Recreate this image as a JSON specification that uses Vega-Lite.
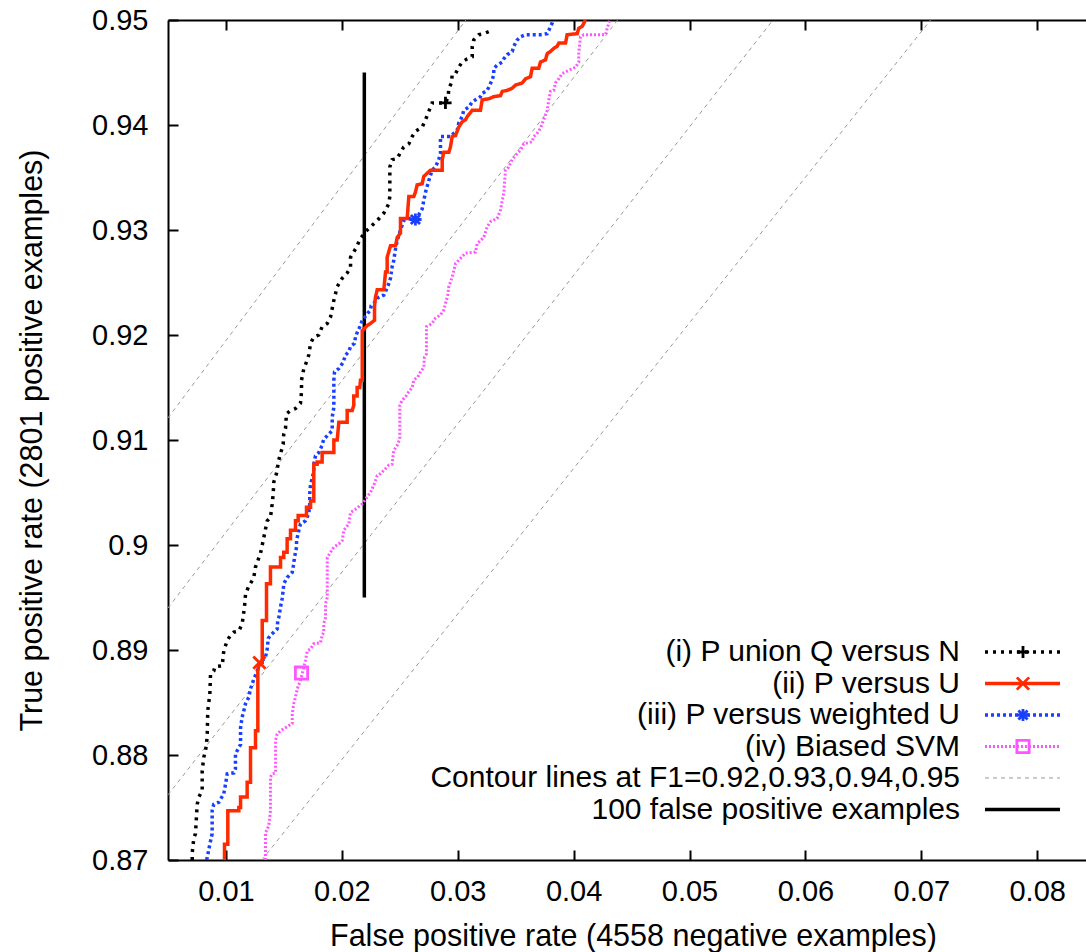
{
"$schema":"https://vega.github.io/schema/vega-lite/v6.json",
"width":918,"height":840,
"autosize":{"type":"none"},
"padding":{"left":168,"top":20,"right":0,"bottom":92},
"background":"white",
"config":{"font":"Liberation Sans","view":{"stroke":null},
"axis":{"domainColor":"#000","domainWidth":2,"tickColor":"#000","tickWidth":2,"tickSize":-10,"labelColor":"#000","labelFont":"Liberation Sans","labelFontSize":29,"titleFont":"Liberation Sans","titleFontSize":30.5,"titleFontWeight":"normal","titleColor":"#000","grid":false}},
"datasets":{
"curves":[
{"s":"e","g":"c95","x":0.005,"y":0.9121},{"s":"e","g":"c95","x":0.0307,"y":0.95},
{"s":"e","g":"c94","x":0.005,"y":0.894},{"s":"e","g":"c94","x":0.0438,"y":0.95},
{"s":"e","g":"c93","x":0.005,"y":0.8762},{"s":"e","g":"c93","x":0.0572,"y":0.95},
{"s":"e","g":"c92","x":0.0131,"y":0.87},{"s":"e","g":"c92","x":0.0708,"y":0.95},
{"s":"f","x":0.02194,"y":0.895},{"s":"f","x":0.02194,"y":0.945},
{"s":"d","x":0.01341,"y":0.87},{"s":"d","x":0.01341,"y":0.8726},{"s":"d","x":0.01356,"y":0.8729},{"s":"d","x":0.0137,"y":0.8733},{"s":"d","x":0.01384,"y":0.8747},{"s":"d","x":0.01384,"y":0.8779},{"s":"d","x":0.01399,"y":0.8782},{"s":"d","x":0.01428,"y":0.8783},{"s":"d","x":0.01428,"y":0.8814},{"s":"d","x":0.01442,"y":0.882},{"s":"d","x":0.01471,"y":0.8823},{"s":"d","x":0.01514,"y":0.8826},{"s":"d","x":0.01542,"y":0.8828},{"s":"d","x":0.01572,"y":0.883},{"s":"d","x":0.01572,"y":0.8839},{"s":"d","x":0.01585,"y":0.8849},{"s":"d","x":0.016,"y":0.8855},{"s":"d","x":0.01615,"y":0.8863},{"s":"d","x":0.01643,"y":0.8871},{"s":"d","x":0.01658,"y":0.8877},{"s":"d","x":0.01672,"y":0.8884},{"s":"d","x":0.01686,"y":0.889},{"s":"d","x":0.01701,"y":0.8899},{"s":"d","x":0.0173,"y":0.8901},{"s":"d","x":0.01758,"y":0.8906},{"s":"d","x":0.01816,"y":0.8907},{"s":"d","x":0.0183,"y":0.8914},{"s":"d","x":0.01844,"y":0.8917},{"s":"d","x":0.01844,"y":0.8925},{"s":"d","x":0.01859,"y":0.8931},{"s":"d","x":0.01859,"y":0.8944},{"s":"d","x":0.01874,"y":0.895},{"s":"d","x":0.01874,"y":0.8988},{"s":"d","x":0.01902,"y":0.8993},{"s":"d","x":0.01931,"y":0.8998},{"s":"d","x":0.01974,"y":0.9001},{"s":"d","x":0.02003,"y":0.9004},{"s":"d","x":0.02017,"y":0.9014},{"s":"d","x":0.0206,"y":0.902},{"s":"d","x":0.02075,"y":0.9031},{"s":"d","x":0.02118,"y":0.9034},{"s":"d","x":0.02176,"y":0.9039},{"s":"d","x":0.02219,"y":0.9046},{"s":"d","x":0.02247,"y":0.905},{"s":"d","x":0.02276,"y":0.9057},{"s":"d","x":0.02305,"y":0.9066},{"s":"d","x":0.02334,"y":0.9068},{"s":"d","x":0.02362,"y":0.9071},{"s":"d","x":0.02405,"y":0.9076},{"s":"d","x":0.02434,"y":0.9077},{"s":"d","x":0.02448,"y":0.909},{"s":"d","x":0.02478,"y":0.9095},{"s":"d","x":0.025,"y":0.9101},{"s":"d","x":0.025,"y":0.9133},{"s":"d","x":0.02521,"y":0.9138},{"s":"d","x":0.02549,"y":0.9141},{"s":"d","x":0.02578,"y":0.9146},{"s":"d","x":0.02607,"y":0.915},{"s":"d","x":0.02621,"y":0.9157},{"s":"d","x":0.02655,"y":0.916},{"s":"d","x":0.02679,"y":0.9165},{"s":"d","x":0.02707,"y":0.9169},{"s":"d","x":0.02713,"y":0.9179},{"s":"d","x":0.0273,"y":0.9182},{"s":"d","x":0.0273,"y":0.9208},{"s":"d","x":0.0275,"y":0.9209},{"s":"d","x":0.02779,"y":0.9211},{"s":"d","x":0.02808,"y":0.9216},{"s":"d","x":0.02851,"y":0.9219},{"s":"d","x":0.0288,"y":0.9224},{"s":"d","x":0.02894,"y":0.923},{"s":"d","x":0.02914,"y":0.9238},{"s":"d","x":0.02923,"y":0.9246},{"s":"d","x":0.02952,"y":0.9255},{"s":"d","x":0.02981,"y":0.9268},{"s":"d","x":0.03024,"y":0.9273},{"s":"d","x":0.03067,"y":0.9278},{"s":"d","x":0.03153,"y":0.9279},{"s":"d","x":0.03168,"y":0.9287},{"s":"d","x":0.03225,"y":0.9293},{"s":"d","x":0.03254,"y":0.9303},{"s":"d","x":0.03283,"y":0.9308},{"s":"d","x":0.0334,"y":0.9311},{"s":"d","x":0.03369,"y":0.9319},{"s":"d","x":0.03384,"y":0.9328},{"s":"d","x":0.03397,"y":0.9335},{"s":"d","x":0.03412,"y":0.9357},{"s":"d","x":0.0344,"y":0.936},{"s":"d","x":0.0347,"y":0.9367},{"s":"d","x":0.03498,"y":0.9371},{"s":"d","x":0.03541,"y":0.9376},{"s":"d","x":0.0357,"y":0.9382},{"s":"d","x":0.03642,"y":0.9384},{"s":"d","x":0.03656,"y":0.9389},{"s":"d","x":0.03685,"y":0.9392},{"s":"d","x":0.03714,"y":0.9397},{"s":"d","x":0.03742,"y":0.9405},{"s":"d","x":0.03772,"y":0.9414},{"s":"d","x":0.03786,"y":0.9424},{"s":"d","x":0.038,"y":0.9432},{"s":"d","x":0.03829,"y":0.9433},{"s":"d","x":0.03843,"y":0.944},{"s":"d","x":0.03872,"y":0.9444},{"s":"d","x":0.03901,"y":0.9449},{"s":"d","x":0.03958,"y":0.9452},{"s":"d","x":0.04016,"y":0.9455},{"s":"d","x":0.04044,"y":0.946},{"s":"d","x":0.04044,"y":0.9468},{"s":"d","x":0.04059,"y":0.9484},{"s":"d","x":0.04088,"y":0.9486},{"s":"d","x":0.04275,"y":0.9486},{"s":"d","x":0.04289,"y":0.9492},{"s":"d","x":0.04303,"y":0.9497},{"s":"d","x":0.04309,"y":0.95},
{"s":"c","x":0.00832,"y":0.87},{"s":"c","x":0.00838,"y":0.8702},{"s":"c","x":0.00861,"y":0.8715},{"s":"c","x":0.00881,"y":0.8725},{"s":"c","x":0.00881,"y":0.8747},{"s":"c","x":0.00895,"y":0.8753},{"s":"c","x":0.00938,"y":0.8755},{"s":"c","x":0.00981,"y":0.8763},{"s":"c","x":0.00996,"y":0.8772},{"s":"c","x":0.01011,"y":0.8782},{"s":"c","x":0.01068,"y":0.8783},{"s":"c","x":0.01082,"y":0.8787},{"s":"c","x":0.01082,"y":0.8801},{"s":"c","x":0.01111,"y":0.8807},{"s":"c","x":0.01126,"y":0.881},{"s":"c","x":0.01126,"y":0.8826},{"s":"c","x":0.0114,"y":0.8836},{"s":"c","x":0.01154,"y":0.8842},{"s":"c","x":0.01169,"y":0.8849},{"s":"c","x":0.01197,"y":0.8855},{"s":"c","x":0.01212,"y":0.8863},{"s":"c","x":0.0124,"y":0.8872},{"s":"c","x":0.0127,"y":0.888},{"s":"c","x":0.01283,"y":0.8885},{"s":"c","x":0.01298,"y":0.8888},{"s":"c","x":0.01341,"y":0.8893},{"s":"c","x":0.01356,"y":0.8901},{"s":"c","x":0.01365,"y":0.8911},{"s":"c","x":0.01384,"y":0.8914},{"s":"c","x":0.01413,"y":0.8917},{"s":"c","x":0.01442,"y":0.892},{"s":"c","x":0.01447,"y":0.8928},{"s":"c","x":0.01456,"y":0.8931},{"s":"c","x":0.01471,"y":0.8941},{"s":"c","x":0.01485,"y":0.8949},{"s":"c","x":0.01494,"y":0.8957},{"s":"c","x":0.01499,"y":0.8963},{"s":"c","x":0.01528,"y":0.8969},{"s":"c","x":0.01572,"y":0.8974},{"s":"c","x":0.01585,"y":0.8982},{"s":"c","x":0.01591,"y":0.8988},{"s":"c","x":0.01609,"y":0.8998},{"s":"c","x":0.01609,"y":0.9004},{"s":"c","x":0.01629,"y":0.9014},{"s":"c","x":0.01643,"y":0.902},{"s":"c","x":0.01686,"y":0.9023},{"s":"c","x":0.01715,"y":0.903},{"s":"c","x":0.01723,"y":0.9039},{"s":"c","x":0.01723,"y":0.9049},{"s":"c","x":0.0173,"y":0.9058},{"s":"c","x":0.01744,"y":0.9063},{"s":"c","x":0.01758,"y":0.9071},{"s":"c","x":0.01758,"y":0.9077},{"s":"c","x":0.01773,"y":0.9085},{"s":"c","x":0.01801,"y":0.9088},{"s":"c","x":0.0183,"y":0.9095},{"s":"c","x":0.01844,"y":0.9101},{"s":"c","x":0.01874,"y":0.9104},{"s":"c","x":0.01917,"y":0.9109},{"s":"c","x":0.01917,"y":0.9122},{"s":"c","x":0.01931,"y":0.9131},{"s":"c","x":0.01931,"y":0.9157},{"s":"c","x":0.01937,"y":0.9165},{"s":"c","x":0.01974,"y":0.9168},{"s":"c","x":0.02012,"y":0.9174},{"s":"c","x":0.02031,"y":0.9181},{"s":"c","x":0.0206,"y":0.9184},{"s":"c","x":0.02075,"y":0.9189},{"s":"c","x":0.02109,"y":0.9192},{"s":"c","x":0.02118,"y":0.9198},{"s":"c","x":0.02138,"y":0.9204},{"s":"c","x":0.02161,"y":0.9209},{"s":"c","x":0.02176,"y":0.9214},{"s":"c","x":0.02198,"y":0.9217},{"s":"c","x":0.02219,"y":0.922},{"s":"c","x":0.02247,"y":0.9224},{"s":"c","x":0.02253,"y":0.9228},{"s":"c","x":0.02276,"y":0.923},{"s":"c","x":0.02305,"y":0.9235},{"s":"c","x":0.02362,"y":0.9238},{"s":"c","x":0.02396,"y":0.9246},{"s":"c","x":0.0242,"y":0.9254},{"s":"c","x":0.02434,"y":0.9265},{"s":"c","x":0.02448,"y":0.9271},{"s":"c","x":0.02463,"y":0.9282},{"s":"c","x":0.02478,"y":0.929},{"s":"c","x":0.02506,"y":0.93},{"s":"c","x":0.02534,"y":0.9309},{"s":"c","x":0.02578,"y":0.9311},{"s":"c","x":0.02635,"y":0.9311},{"s":"c","x":0.0265,"y":0.9312},{"s":"c","x":0.02693,"y":0.932},{"s":"c","x":0.02707,"y":0.9328},{"s":"c","x":0.02722,"y":0.9336},{"s":"c","x":0.0275,"y":0.9347},{"s":"c","x":0.02779,"y":0.9357},{"s":"c","x":0.02808,"y":0.936},{"s":"c","x":0.02836,"y":0.9367},{"s":"c","x":0.02851,"y":0.9373},{"s":"c","x":0.02851,"y":0.9389},{"s":"c","x":0.0288,"y":0.9389},{"s":"c","x":0.02937,"y":0.9389},{"s":"c","x":0.02966,"y":0.9392},{"s":"c","x":0.02995,"y":0.9395},{"s":"c","x":0.03009,"y":0.9402},{"s":"c","x":0.03038,"y":0.9408},{"s":"c","x":0.03052,"y":0.9414},{"s":"c","x":0.03095,"y":0.9417},{"s":"c","x":0.03125,"y":0.9422},{"s":"c","x":0.03196,"y":0.9427},{"s":"c","x":0.03211,"y":0.943},{"s":"c","x":0.03254,"y":0.9433},{"s":"c","x":0.03268,"y":0.9436},{"s":"c","x":0.03297,"y":0.9443},{"s":"c","x":0.03311,"y":0.9448},{"s":"c","x":0.03311,"y":0.9454},{"s":"c","x":0.0334,"y":0.9457},{"s":"c","x":0.03384,"y":0.946},{"s":"c","x":0.03397,"y":0.9463},{"s":"c","x":0.03427,"y":0.9467},{"s":"c","x":0.0347,"y":0.947},{"s":"c","x":0.03484,"y":0.9475},{"s":"c","x":0.03498,"y":0.9478},{"s":"c","x":0.03513,"y":0.9481},{"s":"c","x":0.03541,"y":0.9484},{"s":"c","x":0.03585,"y":0.9486},{"s":"c","x":0.03714,"y":0.9486},{"s":"c","x":0.03772,"y":0.9487},{"s":"c","x":0.03786,"y":0.949},{"s":"c","x":0.038,"y":0.9494},{"s":"c","x":0.03815,"y":0.9497},{"s":"c","x":0.03826,"y":0.95},
{"s":"a","x":0.00709,"y":0.87},{"s":"a","x":0.00709,"y":0.8707},{"s":"a","x":0.00723,"y":0.8721},{"s":"a","x":0.00737,"y":0.8725},{"s":"a","x":0.00752,"y":0.8753},{"s":"a","x":0.00766,"y":0.876},{"s":"a","x":0.00795,"y":0.8766},{"s":"a","x":0.00795,"y":0.8785},{"s":"a","x":0.00809,"y":0.8798},{"s":"a","x":0.00824,"y":0.8804},{"s":"a","x":0.00838,"y":0.8817},{"s":"a","x":0.00843,"y":0.8842},{"s":"a","x":0.00861,"y":0.8858},{"s":"a","x":0.00867,"y":0.8877},{"s":"a","x":0.00895,"y":0.888},{"s":"a","x":0.00904,"y":0.8884},{"s":"a","x":0.00968,"y":0.8885},{"s":"a","x":0.00981,"y":0.8899},{"s":"a","x":0.00996,"y":0.8904},{"s":"a","x":0.01011,"y":0.8909},{"s":"a","x":0.01039,"y":0.8914},{"s":"a","x":0.01068,"y":0.8917},{"s":"a","x":0.01111,"y":0.8918},{"s":"a","x":0.0114,"y":0.8925},{"s":"a","x":0.0116,"y":0.8941},{"s":"a","x":0.01169,"y":0.8953},{"s":"a","x":0.01197,"y":0.8961},{"s":"a","x":0.01226,"y":0.8966},{"s":"a","x":0.0124,"y":0.8969},{"s":"a","x":0.01255,"y":0.8979},{"s":"a","x":0.01275,"y":0.8985},{"s":"a","x":0.01298,"y":0.8992},{"s":"a","x":0.01321,"y":0.9004},{"s":"a","x":0.01341,"y":0.9015},{"s":"a","x":0.01356,"y":0.9023},{"s":"a","x":0.01384,"y":0.9026},{"s":"a","x":0.01399,"y":0.9039},{"s":"a","x":0.01408,"y":0.9049},{"s":"a","x":0.01413,"y":0.906},{"s":"a","x":0.01436,"y":0.9068},{"s":"a","x":0.01456,"y":0.9081},{"s":"a","x":0.01471,"y":0.9087},{"s":"a","x":0.01494,"y":0.9096},{"s":"a","x":0.01499,"y":0.9106},{"s":"a","x":0.01514,"y":0.9111},{"s":"a","x":0.01522,"y":0.9125},{"s":"a","x":0.01557,"y":0.9128},{"s":"a","x":0.016,"y":0.913},{"s":"a","x":0.01643,"y":0.9135},{"s":"a","x":0.01649,"y":0.9141},{"s":"a","x":0.01652,"y":0.9149},{"s":"a","x":0.01652,"y":0.9157},{"s":"a","x":0.01672,"y":0.9168},{"s":"a","x":0.01701,"y":0.9176},{"s":"a","x":0.01715,"y":0.9181},{"s":"a","x":0.0173,"y":0.9192},{"s":"a","x":0.01758,"y":0.9198},{"s":"a","x":0.01801,"y":0.92},{"s":"a","x":0.0183,"y":0.9208},{"s":"a","x":0.01874,"y":0.9211},{"s":"a","x":0.01902,"y":0.9217},{"s":"a","x":0.01922,"y":0.9228},{"s":"a","x":0.01931,"y":0.9233},{"s":"a","x":0.0196,"y":0.9246},{"s":"a","x":0.02003,"y":0.9254},{"s":"a","x":0.02046,"y":0.9259},{"s":"a","x":0.02075,"y":0.9265},{"s":"a","x":0.02075,"y":0.9274},{"s":"a","x":0.02118,"y":0.9282},{"s":"a","x":0.02161,"y":0.9292},{"s":"a","x":0.02219,"y":0.93},{"s":"a","x":0.02247,"y":0.9303},{"s":"a","x":0.02305,"y":0.9309},{"s":"a","x":0.02362,"y":0.9316},{"s":"a","x":0.02405,"y":0.9325},{"s":"a","x":0.02414,"y":0.9332},{"s":"a","x":0.02414,"y":0.936},{"s":"a","x":0.02434,"y":0.9367},{"s":"a","x":0.02478,"y":0.9368},{"s":"a","x":0.02506,"y":0.9374},{"s":"a","x":0.02534,"y":0.9379},{"s":"a","x":0.02578,"y":0.9382},{"s":"a","x":0.02607,"y":0.9389},{"s":"a","x":0.02635,"y":0.9394},{"s":"a","x":0.02693,"y":0.9398},{"s":"a","x":0.02722,"y":0.9405},{"s":"a","x":0.0275,"y":0.9413},{"s":"a","x":0.02765,"y":0.9417},{"s":"a","x":0.02779,"y":0.9421},{"s":"a","x":0.02894,"y":0.9421},{"s":"a","x":0.02918,"y":0.9427},{"s":"a","x":0.02923,"y":0.9435},{"s":"a","x":0.02946,"y":0.944},{"s":"a","x":0.02952,"y":0.9448},{"s":"a","x":0.02981,"y":0.9449},{"s":"a","x":0.03009,"y":0.9455},{"s":"a","x":0.03038,"y":0.946},{"s":"a","x":0.03082,"y":0.9463},{"s":"a","x":0.03125,"y":0.9465},{"s":"a","x":0.03125,"y":0.9475},{"s":"a","x":0.03138,"y":0.9481},{"s":"a","x":0.03182,"y":0.9486},{"s":"a","x":0.03225,"y":0.9487},{"s":"a","x":0.03268,"y":0.9489},{"s":"a","x":0.03297,"y":0.9491},
{"s":"b","x":0.009875,"y":0.87},{"s":"b","x":0.009875,"y":0.8715},{"s":"b","x":0.01016,"y":0.8715},{"s":"b","x":0.01016,"y":0.8747},{"s":"b","x":0.01111,"y":0.8747},{"s":"b","x":0.01111,"y":0.875},{"s":"b","x":0.01126,"y":0.875},{"s":"b","x":0.01126,"y":0.876},{"s":"b","x":0.01183,"y":0.876},{"s":"b","x":0.01183,"y":0.8774},{"s":"b","x":0.01212,"y":0.8774},{"s":"b","x":0.01212,"y":0.8807},{"s":"b","x":0.01255,"y":0.8807},{"s":"b","x":0.01255,"y":0.8823},{"s":"b","x":0.01275,"y":0.8823},{"s":"b","x":0.01275,"y":0.888},{"s":"b","x":0.01289,"y":0.8888},{"s":"b","x":0.01313,"y":0.8888},{"s":"b","x":0.01313,"y":0.8928},{"s":"b","x":0.0135,"y":0.8928},{"s":"b","x":0.0135,"y":0.8963},{"s":"b","x":0.01384,"y":0.8963},{"s":"b","x":0.01384,"y":0.8979},{"s":"b","x":0.01471,"y":0.8979},{"s":"b","x":0.01471,"y":0.8988},{"s":"b","x":0.01499,"y":0.8988},{"s":"b","x":0.01499,"y":0.8993},{"s":"b","x":0.01528,"y":0.8993},{"s":"b","x":0.01528,"y":0.9006},{"s":"b","x":0.01557,"y":0.9006},{"s":"b","x":0.01557,"y":0.9014},{"s":"b","x":0.016,"y":0.9014},{"s":"b","x":0.016,"y":0.9023},{"s":"b","x":0.01623,"y":0.9023},{"s":"b","x":0.01623,"y":0.9028},{"s":"b","x":0.01695,"y":0.9028},{"s":"b","x":0.01695,"y":0.9036},{"s":"b","x":0.0173,"y":0.9036},{"s":"b","x":0.0173,"y":0.9042},{"s":"b","x":0.01758,"y":0.9042},{"s":"b","x":0.01758,"y":0.9077},{"s":"b","x":0.01787,"y":0.9077},{"s":"b","x":0.01787,"y":0.9079},{"s":"b","x":0.0183,"y":0.9079},{"s":"b","x":0.0183,"y":0.9088},{"s":"b","x":0.01931,"y":0.9088},{"s":"b","x":0.01931,"y":0.91},{"s":"b","x":0.0196,"y":0.91},{"s":"b","x":0.01974,"y":0.9117},{"s":"b","x":0.02046,"y":0.9117},{"s":"b","x":0.02046,"y":0.9128},{"s":"b","x":0.02089,"y":0.9128},{"s":"b","x":0.02103,"y":0.9133},{"s":"b","x":0.02103,"y":0.9142},{"s":"b","x":0.02132,"y":0.9142},{"s":"b","x":0.02132,"y":0.915},{"s":"b","x":0.02155,"y":0.915},{"s":"b","x":0.02161,"y":0.9157},{"s":"b","x":0.02176,"y":0.9157},{"s":"b","x":0.02176,"y":0.9204},{"s":"b","x":0.02219,"y":0.9209},{"s":"b","x":0.02247,"y":0.9211},{"s":"b","x":0.02282,"y":0.9214},{"s":"b","x":0.02282,"y":0.9227},{"s":"b","x":0.0229,"y":0.9236},{"s":"b","x":0.02305,"y":0.9243},{"s":"b","x":0.02362,"y":0.9243},{"s":"b","x":0.02377,"y":0.926},{"s":"b","x":0.02391,"y":0.926},{"s":"b","x":0.02391,"y":0.9274},{"s":"b","x":0.0242,"y":0.9285},{"s":"b","x":0.02463,"y":0.9285},{"s":"b","x":0.02478,"y":0.9293},{"s":"b","x":0.02506,"y":0.9297},{"s":"b","x":0.02506,"y":0.9311},{"s":"b","x":0.02564,"y":0.9311},{"s":"b","x":0.02578,"y":0.9332},{"s":"b","x":0.02621,"y":0.9332},{"s":"b","x":0.02635,"y":0.9336},{"s":"b","x":0.0265,"y":0.9343},{"s":"b","x":0.02693,"y":0.9344},{"s":"b","x":0.02707,"y":0.9351},{"s":"b","x":0.02736,"y":0.9354},{"s":"b","x":0.02765,"y":0.9357},{"s":"b","x":0.02866,"y":0.9357},{"s":"b","x":0.02866,"y":0.9367},{"s":"b","x":0.0288,"y":0.9374},{"s":"b","x":0.02923,"y":0.9374},{"s":"b","x":0.02937,"y":0.9379},{"s":"b","x":0.02952,"y":0.9389},{"s":"b","x":0.02981,"y":0.939},{"s":"b","x":0.03009,"y":0.9398},{"s":"b","x":0.03038,"y":0.9403},{"s":"b","x":0.03067,"y":0.9405},{"s":"b","x":0.03082,"y":0.9408},{"s":"b","x":0.03125,"y":0.9414},{"s":"b","x":0.03196,"y":0.9414},{"s":"b","x":0.03211,"y":0.9424},{"s":"b","x":0.03268,"y":0.9425},{"s":"b","x":0.03311,"y":0.9427},{"s":"b","x":0.03369,"y":0.9428},{"s":"b","x":0.03384,"y":0.9432},{"s":"b","x":0.03427,"y":0.9433},{"s":"b","x":0.0347,"y":0.9435},{"s":"b","x":0.03498,"y":0.9438},{"s":"b","x":0.03556,"y":0.944},{"s":"b","x":0.03585,"y":0.9444},{"s":"b","x":0.03628,"y":0.9446},{"s":"b","x":0.03642,"y":0.9454},{"s":"b","x":0.03699,"y":0.9454},{"s":"b","x":0.03714,"y":0.946},{"s":"b","x":0.03757,"y":0.9462},{"s":"b","x":0.03772,"y":0.9468},{"s":"b","x":0.038,"y":0.947},{"s":"b","x":0.03829,"y":0.9473},{"s":"b","x":0.03858,"y":0.9475},{"s":"b","x":0.03872,"y":0.9478},{"s":"b","x":0.0393,"y":0.9478},{"s":"b","x":0.03944,"y":0.9486},{"s":"b","x":0.04031,"y":0.9487},{"s":"b","x":0.04044,"y":0.9492},{"s":"b","x":0.04074,"y":0.9494},{"s":"b","x":0.04088,"y":0.9497},{"s":"b","x":0.04102,"y":0.95}
],
"markers":[
{"m":"a","x":0.02894,"y":0.9421},{"m":"b","x":0.01289,"y":0.8888},{"m":"c","x":0.02635,"y":0.931},{"m":"d","x":0.01652,"y":0.8878}
]},
"layer":[
{"data":{"name":"curves"},
 "mark":{"type":"line","clip":true,"strokeCap":"butt"},
 "encoding":{
  "x":{"field":"x","type":"quantitative","scale":{"domain":[0.005,0.08421],"zero":false,"nice":false},
       "axis":{"orient":"bottom","values":[0.01,0.02,0.03,0.04,0.05,0.06,0.07,0.08],"format":".2f","labelPadding":27,"title":"False positive rate (4558 negative examples)","titleX":465,"titleY":85,"titleBaseline":"alphabetic","titleAlign":"center"}},
  "y":{"field":"y","type":"quantitative","scale":{"domain":[0.87,0.95],"zero":false,"nice":false},
       "axis":{"orient":"left","values":[0.87,0.88,0.89,0.9,0.91,0.92,0.93,0.94,0.95],"format":"~g","labelPadding":30,"title":"True positive rate (2801 positive examples)","titleX":-127,"titleY":420,"titleAngle":-90,"titleBaseline":"alphabetic","titleAlign":"center"}},
  "color":{"field":"s","type":"nominal","scale":{"domain":["a","b","c","d","e","f"],"range":["#000000","#ff2a00","#1a40ff","#ff55ff","#999999","#000000"]},
    "legend":{"orient":"none","legendX":839.5,"legendY":617,"title":null,"padding":0,"symbolType":"M-12.5,0H12.5","symbolSize":36,"labelAlign":"right","labelOffset":-77.5,"labelFont":"Liberation Sans","labelFontSize":30,"labelColor":"#000","rowPadding":1.5,"labelLimit":0,
      "labelExpr":"{'a':'(i) P union Q versus N','b':'(ii) P versus U','c':'(iii) P versus weighted U','d':'(iv) Biased SVM','e':'Contour lines at F1=0.92,0.93,0.94,0.95','f':'100 false positive examples'}[datum.label]"}},
  "strokeDash":{"field":"s","type":"nominal","scale":{"domain":["a","b","c","d","e","f"],"range":[[3,5],[1,0],[3,3],[2,2],[4,4],[1,0]]}},
  "strokeWidth":{"field":"s","type":"nominal","scale":{"type":"ordinal","domain":["a","b","c","d","e","f"],"range":[3.5,3.5,3.5,3,1,3.5]}},
  "detail":{"field":"g","type":"nominal"},
  "order":{"value":null}
 }},
{"data":{"name":"markers"},
 "mark":{"type":"point","filled":false,"strokeWidth":2.8,"size":150,"opacity":1},
 "encoding":{
  "x":{"field":"x","type":"quantitative","axis":{"orient":"top","labels":false,"title":null,"values":[0.01,0.02,0.03,0.04,0.05,0.06,0.07,0.08]}},
  "y":{"field":"y","type":"quantitative","axis":null},
  "shape":{"field":"m","type":"nominal","scale":{"domain":["a","b","c","d"],"range":["M-1,0H1M0,-1V1","M-1,-1L1,1M-1,1L1,-1","M-1,0H1M0,-1V1M-0.75,-0.75L0.75,0.75M-0.75,0.75L0.75,-0.75","square"]},
    "legend":{"orient":"none","legendX":840,"legendY":617,"title":null,"padding":0,"labelOpacity":0,"labelFontSize":30,"rowPadding":1.5,"symbolStrokeWidth":2.8,"symbolSize":150}},
  "stroke":{"field":"m","type":"nominal","scale":{"domain":["a","b","c","d"],"range":["#000000","#ff2a00","#1a40ff","#ff55ff"]},
    "legend":{"orient":"none","legendX":840,"legendY":617,"title":null,"padding":0,"labelOpacity":0,"labelFontSize":30,"rowPadding":1.5,"symbolStrokeWidth":2.8,"symbolSize":150}}
 }}
],
"resolve":{"axis":{"x":"independent","y":"independent"}}
}
